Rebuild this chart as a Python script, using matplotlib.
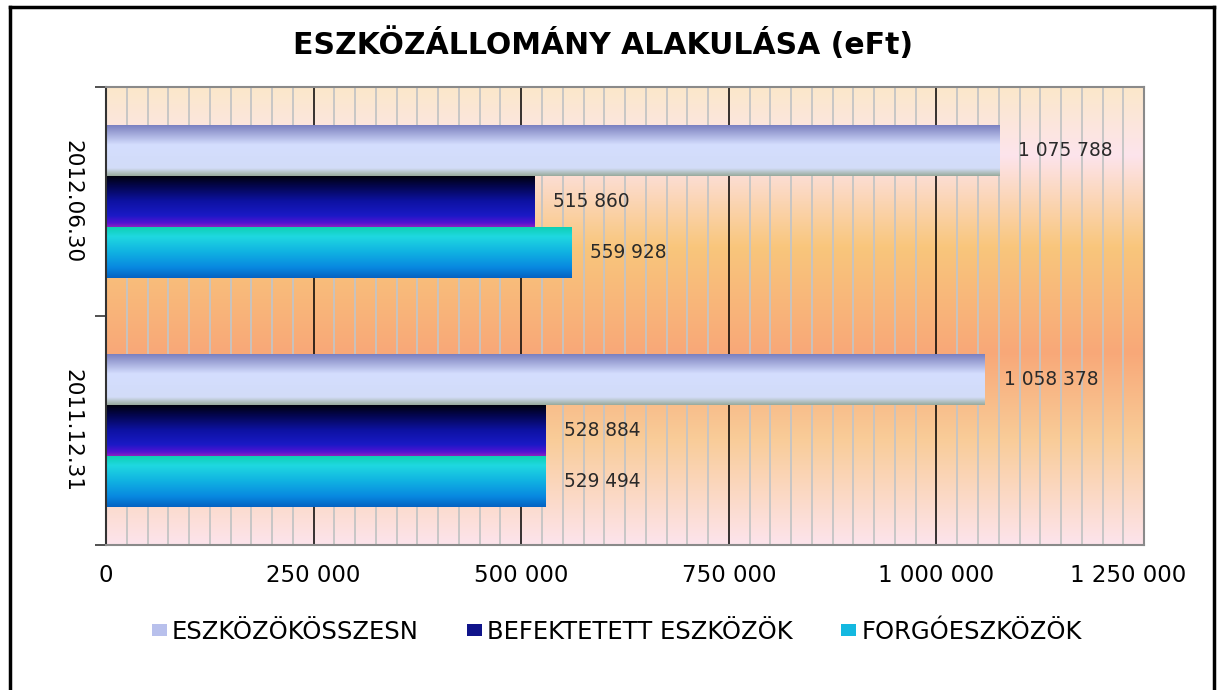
import numpy as np
import matplotlib.pyplot as plt
from matplotlib.colors import LinearSegmentedColormap
from matplotlib.patches import Patch
from matplotlib.lines import Line2D
from matplotlib.transforms import ScaledTranslation

## the data
categories = ['2011.12.31', '2012.06.30']
osszesen = [1058378, 1075788]
befektetett = [528884, 515860]
forgo = [529494, 559928]
series_names = ['ESZKÖZÖKÖSSZESN', 'BEFEKTETETT ESZKÖZÖK', 'FORGÓESZKÖZÖK']
xticks = [0, 250000, 500000, 750000, 1000000, 1250000]


def fmt(v):
    return '{:,}'.format(int(v)).replace(',', ' ')


## gradients (top -> bottom)
grad_total = LinearSegmentedColormap.from_list('t', [
    (0.0, '#767bbd'), (0.15, '#9aa0d4'), (0.4, '#d4defe'),
    (0.85, '#d2dcf8'), (0.93, '#b4c2c4'), (1.0, '#98aa9c')])
grad_bef = LinearSegmentedColormap.from_list('b', [
    (0.0, '#000008'), (0.2, '#03054a'), (0.5, '#0d12a2'),
    (0.78, '#1a1ac6'), (0.92, '#5212d2'), (1.0, '#8a22c0')])
grad_forg = LinearSegmentedColormap.from_list('f', [
    (0.0, '#0ccfae'), (0.2, '#1fd8e0'), (0.5, '#10b2e2'),
    (0.8, '#0888e0'), (1.0, '#0462c2')])
grad_bg = LinearSegmentedColormap.from_list('bg', [
    (0.0, '#fbe8ca'), (0.15, '#fde4ec'), (0.35, '#f9c67c'),
    (0.58, '#f8a878'), (0.77, '#f9cc98'), (1.0, '#fde4ec')])

fig = plt.figure(figsize=(12.21, 6.9), dpi=100)
ax = fig.add_axes([0.0868, 0.2101, 0.937 - 0.0868, 0.8739 - 0.2101])

## background
ramp = np.linspace(0, 1, 256).reshape(-1, 1)
ax.imshow(ramp, cmap=grad_bg, aspect='auto', extent=(0, 1, 0, 1),
          transform=ax.transAxes, origin='upper', zorder=0)

## bars
y = np.arange(len(categories))
h = 0.224
groups = [(osszesen, h, grad_total, '#b8c0ec'),
          (befektetett, 0, grad_bef, '#10148a'),
          (forgo, -h, grad_forg, '#14b8e0')]
handles = []
for (vals, off, cmap, mid), name in zip(groups, series_names):
    bars = ax.barh(y + off, vals, h, color='none', edgecolor='none', zorder=2)
    for b in bars:
        x0, y0 = b.get_x(), b.get_y()
        img = ax.imshow(ramp, cmap=cmap, aspect='auto', origin='upper',
                        extent=(x0, x0 + b.get_width(), y0, y0 + b.get_height()),
                        zorder=2.1)
        img.set_clip_path(b)
    for yy, v in zip(y + off, vals):
        ax.annotate(fmt(v), xy=(v, yy), xytext=(13.5, 0), textcoords='offset points',
                    va='center', ha='left', fontsize=13.4, color='#2a2a2a', zorder=3)
    handles.append(Patch(facecolor=mid, edgecolor='none', label=name))

## axes and grid
ax.set_xlim(0, 1250000)
ax.set_ylim(-0.5, 1.5)
ax.set_xticks(xticks)
ax.set_xticklabels([fmt(t) for t in xticks], fontsize=16.5)
ax.set_xticks(np.arange(0, 1250001, 25000), minor=True)
ax.tick_params(axis='x', which='both', length=0, pad=14)
ax.grid(axis='x', which='minor', color='#c4c4c4', lw=1.3)
ax.grid(axis='x', which='major', color='#000000', lw=1.1)
ax.set_axisbelow(True)
for gl in ax.xaxis.get_gridlines() + ax.xaxis.get_minorticklines():
    gl.set_zorder(1)
last = ax.get_xticklabels()[-1]
last.set_transform(last.get_transform() + ScaledTranslation(-0.16, 0, fig.dpi_scale_trans))

ax.set_yticks(y)
ax.set_yticklabels(categories, rotation=-90, va='center', fontsize=15.5)
ax.set_yticks([-0.5, 0.5, 1.5], minor=True)
ax.tick_params(axis='y', which='major', length=0, pad=17)
ax.tick_params(axis='y', which='minor', length=8, width=1.2, color='#333333')

for s in ['top', 'right', 'bottom']:
    ax.spines[s].set_color('#8a8a8a')
    ax.spines[s].set_linewidth(1.5)
ax.spines['left'].set_color('#333333')
ax.spines['left'].set_linewidth(1.5)

fig.text(0.4935, 0.937, 'ESZKÖZÁLLOMÁNY ALAKULÁSA (eFt)', ha='center', va='center',
         fontsize=21.5, fontweight='bold')

fig.legend(handles=handles, loc='center', bbox_to_anchor=(0.505, 0.084), ncol=3,
           frameon=False, fontsize=17.5, handlelength=0.62, handleheight=0.37,
           handletextpad=0.2, columnspacing=2.0)

## outer border
for xs, ys in [((0.008, 0.008), (0, 0.99)), ((0.008, 0.994), (0.99, 0.99)),
               ((0.994, 0.994), (0, 0.99))]:
    fig.add_artist(Line2D(xs, ys, color='black', lw=2.5, transform=fig.transFigure))

fig.savefig('out.png', dpi=100)
